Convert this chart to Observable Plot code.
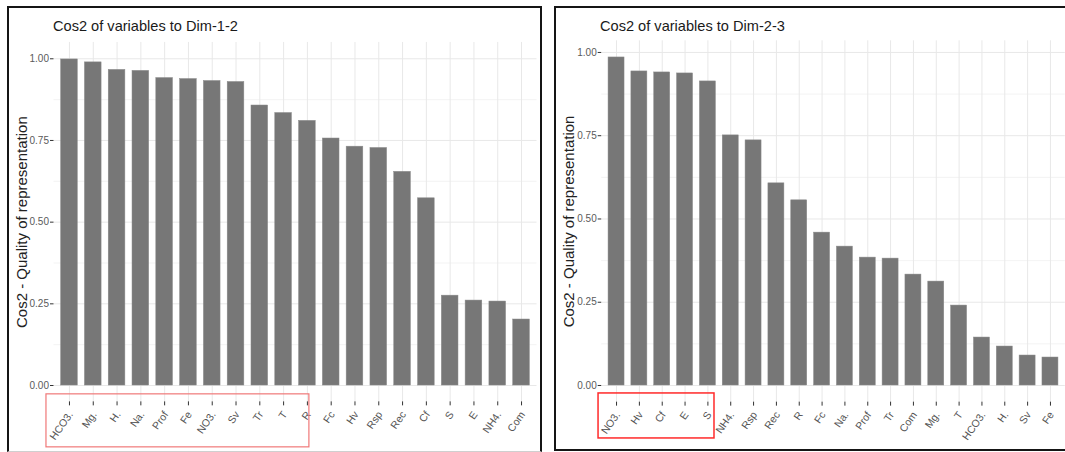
<!DOCTYPE html>
<html>
<head>
<meta charset="utf-8">
<script src="https://cdn.jsdelivr.net/npm/d3@7"></script>
<script src="https://cdn.jsdelivr.net/npm/@observablehq/plot@0.6"></script>
<style>
  html, body { margin: 0; padding: 0; background: #fff; }
  body { width: 1065px; height: 452px; overflow: hidden; position: relative;
         font-family: "Liberation Sans", Arial, sans-serif; }
  .panel { position: absolute; box-sizing: border-box; border: 2px solid #151515; }
  .title { position: absolute; font-size: 14.6px; line-height: 1; color: #1a1a1a; white-space: nowrap; }
  .chart { position: absolute; top: 0; }
  .chart svg { overflow: visible; }
</style>
</head>
<body>
<div class="panel" id="p1" style="left:7px; top:6px; width:535px; height:446px; border-bottom:1px solid #cfcfcf;"></div>
<div class="panel" id="p2" style="left:554px; top:6px; width:520px; height:445px;"></div>
<div class="title" style="left:53px; top:19px;">Cos2 of variables to Dim-1-2</div>
<div class="title" style="left:600px; top:19px;">Cos2 of variables to Dim-2-3</div>
<div class="chart" id="c1" style="left:0px;"></div>
<div class="chart" id="c2" style="left:541px;"></div>
<script>
// ---- data ----
const dim12Vars = ["HCO3.", "Mg.", "H.", "Na.", "Prof", "Fe", "NO3.", "Sv", "Tr", "T", "R",
                   "Fc", "Hv", "Rsp", "Rec", "Cf", "S", "E", "NH4.", "Com"];
const dim12Cos2 = [0.998, 0.989, 0.966, 0.963, 0.941, 0.938, 0.932, 0.929, 0.857, 0.834, 0.810,
                   0.756, 0.731, 0.727, 0.654, 0.573, 0.275, 0.260, 0.257, 0.202];
const dim12Boxed = ["HCO3.", "R"];

const dim23Vars = ["NO3.", "Hv", "Cf", "E", "S", "NH4.", "Rsp", "Rec", "R", "Fc",
                   "Na.", "Prof", "Tr", "Com", "Mg.", "T", "HCO3.", "H.", "Sv", "Fe"];
const dim23Cos2 = [0.985, 0.943, 0.940, 0.937, 0.913, 0.751, 0.736, 0.607, 0.556, 0.459,
                   0.417, 0.384, 0.381, 0.333, 0.312, 0.240, 0.144, 0.117, 0.090, 0.084];
const dim23Boxed = ["NO3.", "S"];

const yTicks = [0, 0.25, 0.5, 0.75, 1];
const yMinorTicks = [0.125, 0.375, 0.625, 0.875];
const yTitle = "Cos2 - Quality of representation";

const NS = "http://www.w3.org/2000/svg";

// ---- annotations drawn through the plot's own scales ----
function addBox(chart, first, last, opts) {
  const sx = chart.scale("x"), sy = chart.scale("y");
  const bw = sx.bandwidth || 0;
  const base = sy.apply(opts.yBase);
  const x1 = sx.apply(first) + bw / 2 - opts.padLeft;
  const x2 = sx.apply(last) + bw / 2 + opts.padRight;
  const r = document.createElementNS(NS, "rect");
  r.setAttribute("x", x1);
  r.setAttribute("y", base + opts.top);
  r.setAttribute("width", x2 - x1);
  r.setAttribute("height", opts.bottom - opts.top);
  r.setAttribute("fill", "none");
  r.setAttribute("stroke", opts.stroke);
  r.setAttribute("stroke-width", opts.strokeWidth);
  chart.appendChild(r);
}

function addXLabels(chart, vars, opts) {
  const sx = chart.scale("x"), sy = chart.scale("y");
  const bw = sx.bandwidth || 0;
  const base = sy.apply(opts.yBase);
  const g = document.createElementNS(NS, "g");
  g.setAttribute("font-family", "Liberation Sans, Arial, sans-serif");
  g.setAttribute("font-size", opts.fontSize);
  g.setAttribute("fill", opts.fill);
  g.setAttribute("text-anchor", "end");
  for (const v of vars) {
    const t = document.createElementNS(NS, "text");
    t.setAttribute("transform", `translate(${sx.apply(v) + bw / 2 + opts.dx},${base + opts.dy}) rotate(${opts.angle})`);
    t.setAttribute("dy", "0.35em");
    t.textContent = v;
    g.appendChild(t);
  }
  chart.appendChild(g);
}

function makeChart(cfg) {
  const data = cfg.vars.map((v, i) => ({v, c: cfg.values[i]}));
  const chart = Plot.plot({
    width: cfg.width, height: cfg.height,
    marginLeft: cfg.marginLeft, marginRight: cfg.marginRight,
    marginTop: cfg.marginTop, marginBottom: cfg.marginBottom,
    style: {fontFamily: "Liberation Sans, Arial, sans-serif", fontSize: "10px", background: "transparent", overflow: "visible"},
    x: {domain: cfg.vars, padding: 0.3, align: 0.5, round: false, label: null},
    y: {domain: cfg.yDomain, label: null},
    marks: [
      Plot.gridY(yMinorTicks, {stroke: "#f0f0f0", strokeOpacity: 1, strokeWidth: 0.8}),
      Plot.gridY(yTicks, {stroke: "#e8e8e8", strokeOpacity: 1, strokeWidth: 1}),
      Plot.gridX(cfg.vars, {stroke: "#e8e8e8", strokeOpacity: 1, strokeWidth: 1}),
      Plot.barY(data, {x: "v", y: "c", fill: "#777777", stroke: "#8a8a8a", strokeWidth: 0.5}),
      Plot.axisY(yTicks, {tickFormat: d3.format(".2f"), tickSize: 3.5, tickPadding: 1.5,
                          stroke: "#333", color: "#5a5a5a", fontSize: 10, label: null}),
      Plot.axisX({tickSize: 4, tickFormat: () => "", stroke: "#333", label: null}),
      Plot.text([yTitle], {frameAnchor: "left", dx: cfg.titleDx, rotate: -90, fontSize: 15,
                           textAnchor: "middle", lineAnchor: "middle", fill: "#222", text: d => d})
    ]
  });
  addXLabels(chart, cfg.vars, {yBase: cfg.yDomain[0], dx: 1.5, dy: 11, angle: -55, fontSize: 10.5, fill: "#555"});
  addBox(chart, cfg.boxed[0], cfg.boxed[1], cfg.box);
  return chart;
}

document.getElementById("c1").appendChild(makeChart({
  vars: dim12Vars, values: dim12Cos2, boxed: dim12Boxed,
  width: 541, height: 452, marginLeft: 53.5, marginRight: 4.5, marginTop: 41.95, marginBottom: 50.65,
  yDomain: [-0.05, 1.05], titleDx: -31.5,
  box: {yBase: -0.05, top: -7.5, bottom: 45.5, padLeft: 23, padRight: 2, stroke: "#f07878", strokeWidth: 1.2}
}));

document.getElementById("c2").appendChild(makeChart({
  vars: dim23Vars, values: dim23Cos2, boxed: dim23Boxed,
  width: 524, height: 452, marginLeft: 60.2, marginRight: 0.2, marginTop: 40.3, marginBottom: 50.35,
  yDomain: [-0.05, 1.035], titleDx: -33,
  box: {yBase: -0.05, top: -8.7, bottom: 36.3, padLeft: 18, padRight: 6.6, stroke: "#ff2a2a", strokeWidth: 1.5}
}));
</script>
</body>
</html>
